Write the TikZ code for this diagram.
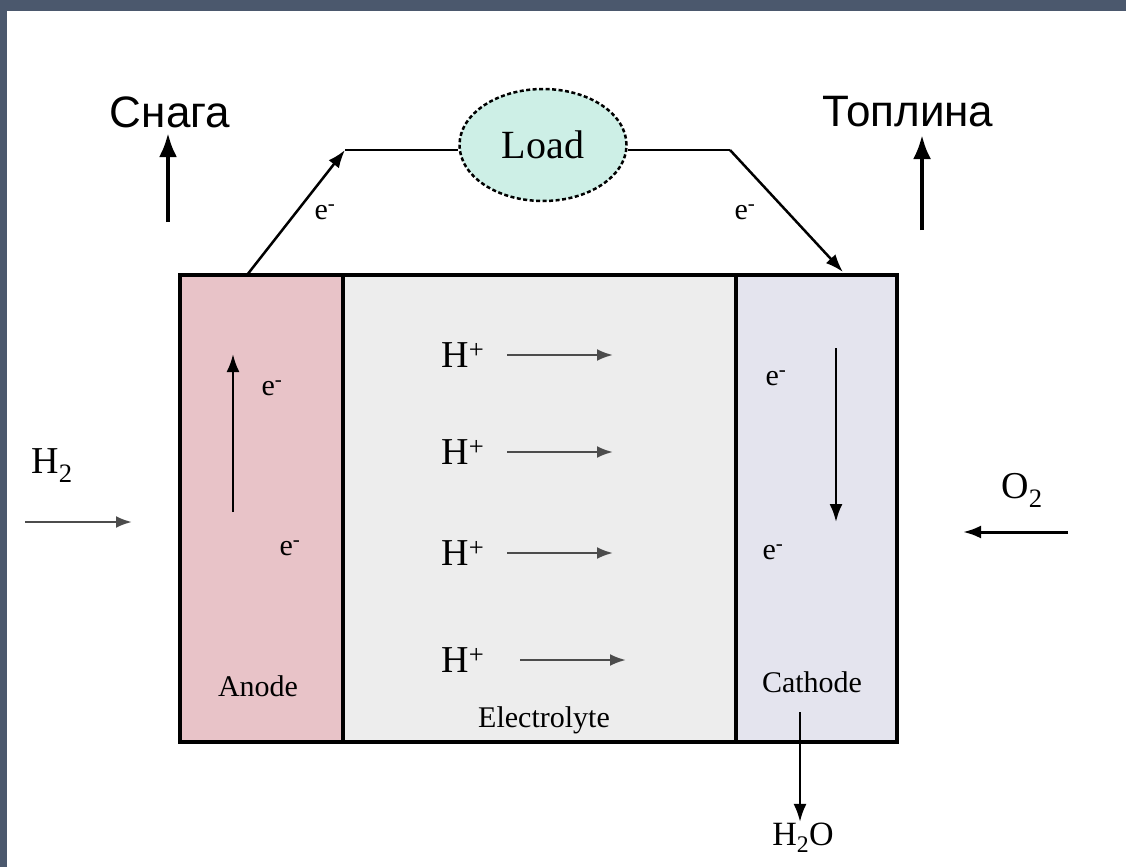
\documentclass[tikz,border=0pt]{standalone}
\usepackage{fontspec}
\setmainfont{Liberation Serif}
\newfontfamily\cyrsans{Liberation Sans}
\usetikzlibrary{shapes.geometric,arrows.meta,positioning}
\definecolor{framegray}{HTML}{4B586D}
\definecolor{anodepink}{HTML}{E8C3C8}
\definecolor{electgray}{HTML}{EDEDED}
\definecolor{cathlilac}{HTML}{E4E4EE}
\definecolor{loadcyan}{HTML}{CDEFE6}

\begin{document}
\begin{tikzpicture}[x=1pt,y=-1pt,
    part/.style={draw=black,line width=3.5pt,minimum height=467pt,inner sep=0pt},
    bigsans/.style={font=\cyrsans\fontsize{44}{44}\selectfont,inner sep=1pt},
    chem/.style={font=\fontsize{38}{38}\selectfont,inner sep=1pt},
    elec/.style={font=\fontsize{30}{30}\selectfont,inner sep=1pt},
    partname/.style={font=\fontsize{30}{30}\selectfont,inner sep=1pt},
    earrow/.style={line width=2.5pt,-{Latex[length=18pt,width=13pt]}},
    power/.style={line width=4pt,-{Latex[length=24pt,width=18pt]}},
    ionarrow/.style={line width=2.5pt,draw=gray!60!black,-{Latex[length=16pt,width=12pt]}},
    wire/.style={line width=2.5pt}]
  \useasboundingbox (0,0) rectangle (1126,867);
  % frame
  \fill[framegray] (0,0) rectangle (1126,11);
  \fill[framegray] (0,0) rectangle (7,867);

  % cell
  \node[part,fill=anodepink,minimum width=163pt] (anode) at (261.5,508.5) {};
  \node[part,fill=electgray,minimum width=393pt] (electrolyte) at (539.5,508.5) {};
  \node[part,fill=cathlilac,minimum width=161pt] (cathode) at (816.5,508.5) {};
  \node[partname] (anodename) at (258,686) {Anode};
  \node[partname] (electname) at (544,720) {Electrolyte};
  \node[partname] (cathname) at (812,682) {Cathode};

  % load and wires
  \node[ellipse,draw,fill=loadcyan,line width=2.5pt,dash pattern=on 4pt off 2.5pt,
        minimum width=167pt,minimum height=112pt,font=\fontsize{40}{40}\selectfont] (load) at (543,145) {Load};
  \coordinate (a1) at (247,275);
  \coordinate (wl) at (345,150);
  \coordinate (wr) at (730,150);
  \coordinate (c1) at (843,272);
  \draw[earrow] (a1) -- (wl);
  \draw[wire] (wl) -- (load.west |- wl);
  \draw[wire] (load.east |- wr) -- (wr);
  \draw[earrow] (wr) -- (c1);
  \node[elec] (ew1) at (325,212) {e\textsuperscript{-}};
  \node[elec] (ew2) at (745,212) {e\textsuperscript{-}};

  % outputs
  \node[bigsans] (snaga) at (170,112) {Снага};
  \node[bigsans] (toplina) at (908,112) {Топлина};
  \coordinate (s0) at (168,222);
  \coordinate (s1) at (168,133);
  \coordinate (t0) at (922,230);
  \coordinate (t1) at (922,135);
  \draw[power] (s0) -- (s1);
  \draw[power] (t0) -- (t1);

  % anode side
  \coordinate (an0) at (233,512);
  \coordinate (an1) at (233,354);
  \draw[earrow] (an0) -- (an1);
  \node[elec] (ea1) at (272,388) {e\textsuperscript{-}};
  \node[elec] (ea2) at (290,548) {e\textsuperscript{-}};
  \node[chem] (htwo) at (52,466) {H\textsubscript{2}};
  \coordinate (h0) at (25,522);
  \coordinate (h1) at (132,522);
  \draw[ionarrow] (h0) -- (h1);

  % cathode side
  \coordinate (ca0) at (836,348);
  \coordinate (ca1) at (836,522);
  \draw[earrow] (ca0) -- (ca1);
  \node[elec] (ec1) at (776,378) {e\textsuperscript{-}};
  \node[elec] (ec2) at (773,552) {e\textsuperscript{-}};
  \node[chem] (otwo) at (1022,490) {O\textsubscript{2}};
  \coordinate (o0) at (1068,532);
  \coordinate (o1) at (963,532);
  \draw[power,line width=3pt,-{Latex[length=18pt,width=13pt]}] (o0) -- (o1);
  \node[chem,font=\fontsize{34}{34}\selectfont] (water) at (803,838) {H\textsubscript{2}O};
  \coordinate (w0) at (800,712);
  \draw[earrow] (w0) -- (water.north -| w0);

  % protons
  \foreach \i/\y/\s in {1/355/507,2/452/507,3/553/507,4/660/520}{
    \node[chem] (hp\i) at (463,\y) {H\textsuperscript{+}};
    \coordinate (ha\i) at (\s,\y);
    \coordinate (hb\i) at (\s+106,\y);
    \draw[ionarrow] (ha\i) -- (hb\i);
  }
\end{tikzpicture}
\end{document}
